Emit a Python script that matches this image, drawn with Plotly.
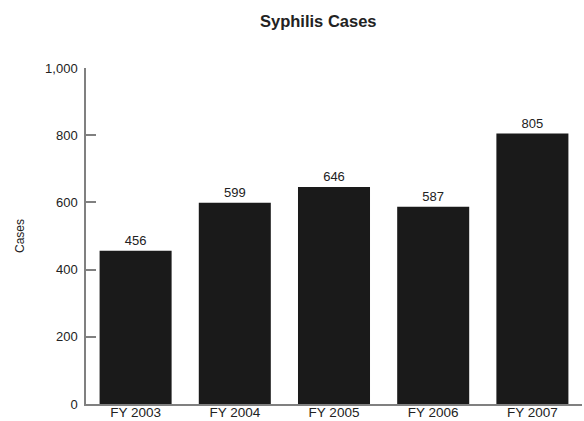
import plotly.graph_objects as go

categories = ["FY 2003", "FY 2004", "FY 2005", "FY 2006", "FY 2007"]
cases = [456, 599, 646, 587, 805]
y_ticks = [0, 200, 400, 600, 800, 1000]
y_tick_labels = ["0", "200", "400", "600", "800", "1,000"]

FONT = "Liberation Sans Narrow, Arial Narrow, Liberation Sans, Arial, sans-serif"

fig = go.Figure(go.Bar(
    x=categories, y=cases,
    marker=dict(color="#1a1a1a", line=dict(width=0)),
    text=[str(v) for v in cases], textposition="outside",
    textfont=dict(family=FONT, size=13, color="#222"),
    cliponaxis=False,
))

fig.update_layout(
    width=584, height=421,
    margin=dict(l=86, r=2, t=68, b=17, autoexpand=False),
    paper_bgcolor="white", plot_bgcolor="white",
    bargap=0.274,
    showlegend=False,
    font=dict(family=FONT, size=13, color="#222"),
    title=dict(text="<b>Syphilis Cases</b>", x=0.545, xanchor="center",
               y=0.95, yanchor="middle", font=dict(family=FONT, size=16.5, color="#222")),
)
fig.update_xaxes(
    showline=True, linecolor="#808080", linewidth=1.5,
    ticks="", showgrid=False, automargin=False,
    ticklabelstandoff=-5,
    tickfont=dict(family=FONT, size=13.5, color="#222"),
)
fig.update_yaxes(
    range=[0, 1000], tickvals=y_ticks, ticktext=y_tick_labels,
    showline=True, linecolor="#808080", linewidth=1.5,
    ticks="inside", ticklen=10, tickcolor="#808080", tickwidth=1.5,
    showgrid=False, zeroline=False, automargin=False,
    ticklabelstandoff=4,
    tickfont=dict(family=FONT, size=13, color="#222"),
    title=dict(text="Cases", standoff=18, font=dict(family=FONT, size=12, color="#222")),
)

fig.write_html("out.html", config={"displayModeBar": False},
               post_script="document.body.style.margin='0';document.body.style.overflow='hidden';")
